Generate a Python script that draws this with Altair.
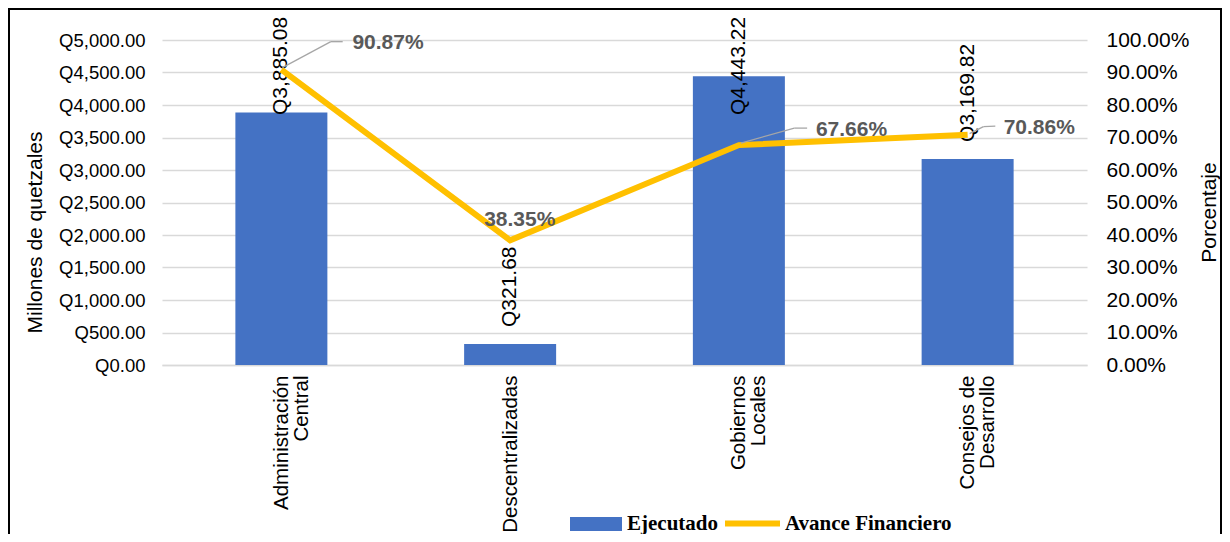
import json
import altair as alt
import pandas as pd

# ---------------- data ----------------
categories = ["Administración\nCentral", "Descentralizadas", "Gobiernos\nLocales", "Consejos de\nDesarrollo"]
ejecutado = [3885.08, 321.68, 4443.22, 3169.82]
avance = [90.87, 38.35, 67.66, 70.86]
series_names = ["Ejecutado", "Avance Financiero"]
left_ticks = list(range(0, 5001, 500))
right_ticks = list(range(0, 101, 10))

df = pd.DataFrame({
    "idx": list(range(len(categories))),
    "cat": categories,
    "ejec": ejecutado,
    "pct": avance,
    "s_bar": series_names[0],
    "s_line": series_names[1],
})

# ---------------- layout constants ----------------
W, H = 925, 325
XD = [-0.5, len(categories) - 0.5]
PX_X = W / (XD[1] - XD[0])
PX_Y = H / 100.0
BLUE = "#4472C4"
GOLD = "#FFC000"
GRID = "#D9D9D9"
FONT = "Liberation Sans"

xscale = alt.Scale(domain=XD, nice=False, zero=False)
lscale = alt.Scale(domain=[0, 5000], nice=False)
rscale = alt.Scale(domain=[0, 100], nice=False)

cat_expr = "split(" + json.dumps(categories, ensure_ascii=False) + "[datum.value], '\\n')"

x_axis = alt.Axis(
    values=list(range(len(categories))), labelExpr=cat_expr, labelAngle=270,
    labelAlign="right", labelBaseline="middle", labelFontSize=20.5, labelLineHeight=20,
    labelPadding=10, ticks=False, grid=False, domainColor=GRID, domainWidth=1.3,
    title=None, labelFlush=False, labelOverlap=False,
)

base = alt.Chart()

# border around the whole chart
border = base.mark_rect(filled=False, stroke="black", strokeWidth=2).encode(
    x=alt.value(-153), x2=alt.value(1059), y=alt.value(-31), y2=alt.value(600)
).transform_filter("datum.idx == 0")

bars = base.mark_bar(width=92).encode(
    x=alt.X("idx:Q", scale=xscale, axis=x_axis),
    y=alt.Y("ejec:Q", scale=lscale, axis=alt.Axis(
        orient="left", values=left_ticks, labelExpr="'Q' + format(datum.value, ',.2f')",
        title="Millones de quetzales", grid=True, gridColor=GRID, gridWidth=1.3,
        ticks=False, domain=False, labelPadding=17, labelFontSize=18.5,
        titleFontSize=21, titleFontWeight="normal", titleAngle=270,
        titleX=-127, titleY=192, titleAlign="center", titleBaseline="middle")),
    fill=alt.Fill("s_bar:N", scale=alt.Scale(domain=[series_names[0]], range=[BLUE]),
                  legend=alt.Legend(orient="none", legendX=408, legendY=458, title=None,
                                    symbolType="M-1,-0.27H1V0.27H-1Z", symbolSize=2704,
                                    symbolStrokeWidth=0, labelFont="Liberation Serif",
                                    labelFontWeight="bold", labelFontSize=21, labelColor="black",
                                    labelOffset=5, padding=0, labelLimit=0)),
)

bar_labels = base.mark_text(angle=270, align="left", baseline="middle", fontSize=21,
                            color="black", font=FONT).encode(
    x=alt.X("idx:Q", scale=xscale),
    y=alt.Y("ly:Q", scale=lscale, axis=None),
    text="lab:N",
).transform_calculate(
    lab="'Q' + format(datum.ejec, ',.2f')",
    ly="min(datum.ejec + 262, 3846)",
)

line = base.mark_line(strokeWidth=6).encode(
    x=alt.X("idx:Q", scale=xscale),
    y=alt.Y("pct:Q", scale=rscale, axis=alt.Axis(
        orient="right", values=right_ticks, labelExpr="format(datum.value, '.2f') + '%'",
        grid=False, ticks=False, domain=False, labelPadding=19, labelFontSize=21,
        title="Porcentaje", titleAngle=270, titleX=122, titleY=172, titleAlign="center",
        titleBaseline="middle", titleFontSize=21, titleFontWeight="normal")),
    stroke=alt.Stroke("s_line:N", scale=alt.Scale(domain=[series_names[1]], range=[GOLD]),
                      legend=alt.Legend(orient="none", legendX=560, legendY=453, title=None,
                                        symbolType="stroke", symbolSize=3025,
                                        symbolStrokeWidth=6, labelFont="Liberation Serif",
                                        labelFontWeight="bold", labelFontSize=21,
                                        labelColor="black", labelOffset=2, padding=0,
                                        labelLimit=0)),
)

# label placement (pixels relative to each point): text offset and leader-line path
label_offsets = [(71, -27), (-26, -20), (77, -15), (36, -7)]
leader_paths = [[(1, -2), (50, -28), (62, -28)], None,
                [(2, -2), (56, -17), (69, -17)], [(2, -1), (16, -8), (28, -8.5)]]

layers = [border, bars, bar_labels, line]
for i, (ddx, ddy) in enumerate(label_offsets):
    path = leader_paths[i]
    if path:
        for (ax, ay), (bx, by) in zip(path[:-1], path[1:]):
            layers.append(
                base.mark_rule(color="#A6A6A6", strokeWidth=1.3).encode(
                    x=alt.X("lx1:Q", scale=xscale),
                    y=alt.Y("ly1:Q", scale=rscale, axis=None),
                    x2="lx2:Q", y2="ly2:Q",
                ).transform_filter(f"datum.idx == {i}").transform_calculate(
                    lx1=f"datum.idx + {ax / PX_X}", ly1=f"datum.pct - {ay / PX_Y}",
                    lx2=f"datum.idx + {bx / PX_X}", ly2=f"datum.pct - {by / PX_Y}",
                )
            )
    layers.append(
        base.mark_text(align="left", baseline="middle", dx=ddx, dy=ddy, fontSize=21,
                       fontWeight="bold", color="#595959", font=FONT).encode(
            x=alt.X("idx:Q", scale=xscale),
            y=alt.Y("pct:Q", scale=rscale, axis=None),
            text="plab:N",
        ).transform_filter(f"datum.idx == {i}").transform_calculate(
            plab="format(datum.pct, '.2f') + '%'")
    )

chart = alt.layer(*layers, data=df).resolve_scale(
    y="independent", fill="independent", stroke="independent"
).properties(
    width=W, height=H,
    padding={"left": 154, "top": 32, "right": 135, "bottom": 169},
    autosize=alt.AutoSizeParams(type="none"),
).configure(font=FONT).configure_view(stroke=None).configure_axis(
    labelColor="black", titleColor="black", labelFont=FONT, titleFont=FONT
)

chart.save("out.html", embed_options={"renderer": "svg", "actions": False})
